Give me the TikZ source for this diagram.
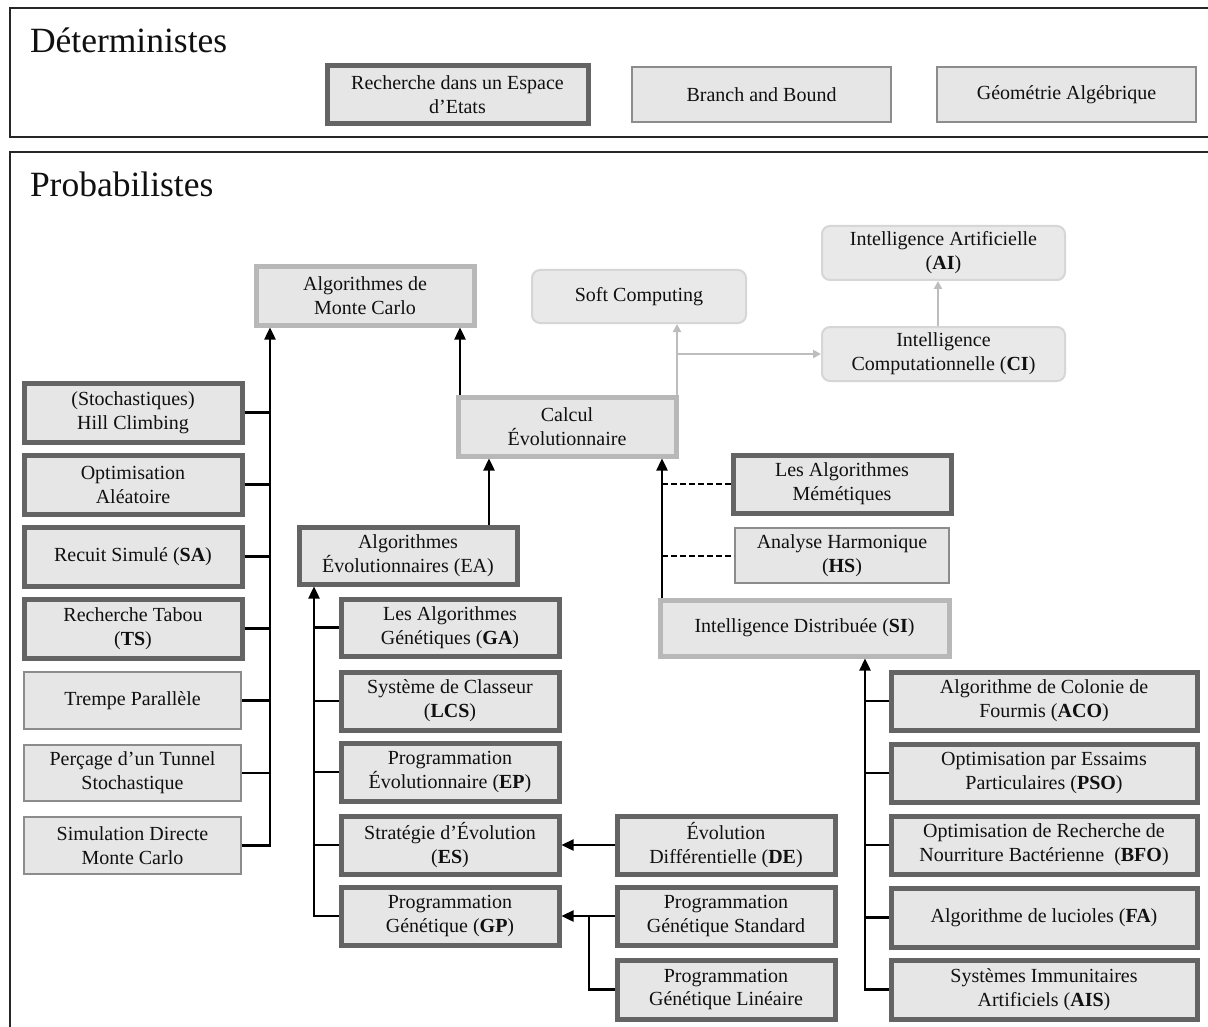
\documentclass[tikz,border=0pt]{standalone}
\usepackage{fontspec}
\setmainfont{Liberation Serif}
\usetikzlibrary{arrows.meta}

\definecolor{boxfill}{HTML}{E6E6E6}
\definecolor{darkedge}{HTML}{646464}
\definecolor{lightedge}{HTML}{B8B8B8}
\definecolor{thinedge}{HTML}{8C8C8C}
\definecolor{softedge}{HTML}{D6D6D6}
\definecolor{softfill}{HTML}{E9E9E9}
\definecolor{greyline}{HTML}{BDBDBD}
\definecolor{ink}{HTML}{101010}

% box placed by its outer corners (x1,y1) and (x2,y2), in pixel-like units
\newcommand\bx[7]{%
  \node[#2, minimum width={#5-#3-4}, minimum height={#6-#4-4}]
    (#1) at ({(#3+#5)/2},{(#4+#6)/2}) {#7};}

\begin{document}
\begin{tikzpicture}[x=1pt, y=-1pt,
  every node/.style={inner sep=0pt, outer sep=0pt, align=center, text=ink,
    font=\fontsize{20}{24}\selectfont},
  boxbase/.style={fill=boxfill, outer sep=0.5\pgflinewidth},
  darkbox/.style={boxbase, draw=darkedge, line width=5pt},
  lightbox/.style={boxbase, draw=lightedge, line width=5pt},
  thinbox/.style={boxbase, draw=thinedge, line width=2pt},
  softbox/.style={fill=softfill, draw=softedge, line width=2pt, rounded corners=8pt,
    outer sep=0.5\pgflinewidth},
  frame/.style={draw=black!85, line width=2pt},
  title/.style={anchor=base west, font=\fontsize{35.5}{40}\selectfont},
  conn/.style={draw=black, line width=2.4pt},
  arr/.style={conn, -{Triangle[width=11pt,length=12pt]}},
  dashconn/.style={draw=black, line width=2pt, dash pattern=on 6pt off 3pt},
  garr/.style={draw=greyline, line width=2.2pt, -{Triangle[width=8pt,length=8pt]}}
]
\useasboundingbox[fill=white] (0,0) rectangle (1208,1027);

% section frames
\draw[frame] (1230,8) -- (10,8) -- (10,137) -- (1230,137);
\draw[frame] (1230,152) -- (10,152) -- (10,1045);
\node[title] (tdet) at (30,53) {Déterministes};
\node[title] (tprob) at (30,197) {Probabilistes};

% deterministic methods
\bx{RE}{darkbox}{325}{64}{590}{126}{Recherche dans un Espace\\d’Etats}
\bx{BB}{thinbox}{630}{65}{893}{124}{Branch and Bound}
\bx{GA2}{thinbox}{935}{65}{1198}{124}{Géométrie Algébrique}

% upper hierarchy
\bx{MC}{lightbox}{254}{265}{476}{327}{Algorithmes de\\Monte Carlo}
\bx{SC}{softbox}{530}{268}{748}{325}{Soft Computing}
\bx{AI}{softbox}{820}{224}{1067}{282}{Intelligence Artificielle\\(\textbf{AI})}
\bx{CI}{softbox}{820}{325}{1067}{383}{Intelligence\\Computationnelle (\textbf{CI})}
\bx{CE}{lightbox}{456}{395}{678}{458}{Calcul\\Évolutionnaire}
\bx{MM}{darkbox}{731}{453}{953}{515}{Les Algorithmes\\Mémétiques}
\bx{HS}{thinbox}{733}{526}{951}{585}{Analyse Harmonique\\(\textbf{HS})}
\bx{SI}{lightbox}{658}{598}{951}{658}{Intelligence Distribuée (\textbf{SI})}
\bx{EA}{darkbox}{297}{525}{519}{586}{Algorithmes\\Évolutionnaires (EA)}

% stochastic local methods
\bx{HC}{darkbox}{22}{381}{244}{444}{(Stochastiques)\\Hill Climbing}
\bx{OA}{darkbox}{22}{453}{244}{516}{Optimisation\\Aléatoire}
\bx{SA}{darkbox}{22}{525}{244}{588}{Recuit Simulé (\textbf{SA})}
\bx{TS}{darkbox}{22}{597}{244}{660}{Recherche Tabou\\(\textbf{TS})}
\bx{TP}{thinbox}{22}{670}{243}{731}{Trempe Parallèle}
\bx{PT}{thinbox}{22}{743}{243}{803}{Perçage d’un Tunnel\\Stochastique}
\bx{SD}{thinbox}{22}{815}{243}{876}{Simulation Directe\\Monte Carlo}

% evolutionary algorithms
\bx{GA}{darkbox}{339}{597}{561}{658}{Les Algorithmes\\Génétiques (\textbf{GA})}
\bx{LCS}{darkbox}{339}{670}{561}{732}{Système de Classeur\\(\textbf{LCS})}
\bx{EP}{darkbox}{339}{741}{561}{803}{Programmation\\Évolutionnaire (\textbf{EP})}
\bx{ES}{darkbox}{339}{814}{561}{876}{Stratégie d’Évolution\\(\textbf{ES})}
\bx{GP}{darkbox}{339}{885}{561}{947}{Programmation\\Génétique (\textbf{GP})}
\bx{DE}{darkbox}{615}{814}{837}{876}{Évolution\\Différentielle (\textbf{DE})}
\bx{GPS}{darkbox}{615}{885}{837}{947}{Programmation\\Génétique Standard}
\bx{GPL}{darkbox}{615}{958}{837}{1021}{Programmation\\Génétique Linéaire}

% swarm intelligence
\bx{ACO}{darkbox}{889}{670}{1199}{732}{Algorithme de Colonie de\\Fourmis (\textbf{ACO})}
\bx{PSO}{darkbox}{889}{742}{1199}{804}{Optimisation par Essaims\\Particulaires (\textbf{PSO})}
\bx{BFO}{darkbox}{889}{814}{1199}{876}{Optimisation de Recherche de\\Nourriture Bactérienne~ (\textbf{BFO})}
\bx{FA}{darkbox}{889}{886}{1199}{949}{Algorithme de lucioles (\textbf{FA})}
\bx{AIS}{darkbox}{889}{958}{1199}{1021}{Systèmes Immunitaires\\Artificiels (\textbf{AIS})}

% bus positions
\coordinate (lbus) at (270,0);
\coordinate (cel) at (460,0);
\coordinate (cer) at (677,0);
\coordinate (eax) at (489,0);
\coordinate (six) at (662,0);
\coordinate (ebus) at (314,0);
\coordinate (gpx) at (589,0);
\coordinate (sbus) at (865,0);

% Monte Carlo family
\draw[arr] (SD.east) -| (MC.south -| lbus);
\foreach \n in {HC,OA,SA,TS,TP,PT}
  \draw[conn] (\n.east) -- (\n.east -| lbus);
\draw[arr] (CE.north -| cel) -- (MC.south -| cel);

% soft computing links
\draw[garr] (CE.north -| cer) -- (SC.south -| cer);
\draw[garr] (CI.west -| cer) -- (CI.west);
\draw[garr] (CI.north -| 938,0) -- (AI.south -| 938,0);

% evolutionary computation
\draw[arr] (EA.north -| eax) -- (CE.south -| eax);
\draw[arr] (SI.north -| six) -- (CE.south -| six);
\draw[dashconn] (MM.west -| six) -- (MM.west);
\draw[dashconn] (HS.west -| six) -- (HS.west);

\draw[arr] (GP.west) -| (EA.south -| ebus);
\foreach \n in {GA,LCS,EP,ES}
  \draw[conn] (\n.west) -- (\n.west -| ebus);
\draw[arr] (DE.west) -- (ES.east);
\draw[arr] (GPS.west) -- (GP.east);
\draw[conn] (GPL.west) -| (GP.east -| gpx);

% swarm family
\draw[arr] (AIS.west) -| (SI.south -| sbus);
\foreach \n in {ACO,PSO,BFO,FA}
  \draw[conn] (\n.west) -- (\n.west -| sbus);
\end{tikzpicture}
\end{document}
